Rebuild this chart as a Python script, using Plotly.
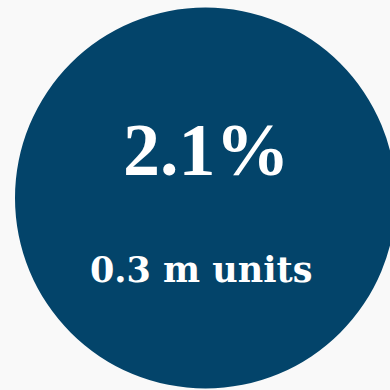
import plotly.graph_objects as go

# Data
share_pct = [2.1]
units_m = [0.3]
labels = [f"{share_pct[0]}%", f"{units_m[0]} m units"]

W = H = 390
circle_cx, circle_cy, circle_r = 205.5, 198, 190.5

fig = go.Figure()
fig.add_shape(type="circle", xref="x", yref="y",
              x0=circle_cx - circle_r, x1=circle_cx + circle_r,
              y0=circle_cy - circle_r, y1=circle_cy + circle_r,
              fillcolor="#03446a", line=dict(width=0), layer="below")

fig.add_annotation(x=206.5, y=150, xref="x", yref="y", text=labels[0], showarrow=False,
                   font=dict(family="Liberation Serif", size=74, color="white", weight="bold"),
                   xanchor="center", yanchor="middle")
fig.add_annotation(x=200.5, y=269, xref="x", yref="y", text=labels[1], showarrow=False,
                   font=dict(family="DejaVu Serif", size=35, color="white", weight="bold"),
                   xanchor="center", yanchor="middle")

fig.update_layout(
    width=W, height=H, margin=dict(l=0, r=0, t=0, b=0),
    paper_bgcolor="#f9f9f9", plot_bgcolor="#f9f9f9",
    xaxis=dict(range=[0, W], visible=False, fixedrange=True),
    yaxis=dict(range=[H, 0], visible=False, fixedrange=True),
    showlegend=False,
)
fig.write_html("out.html", config={"displayModeBar": False})
